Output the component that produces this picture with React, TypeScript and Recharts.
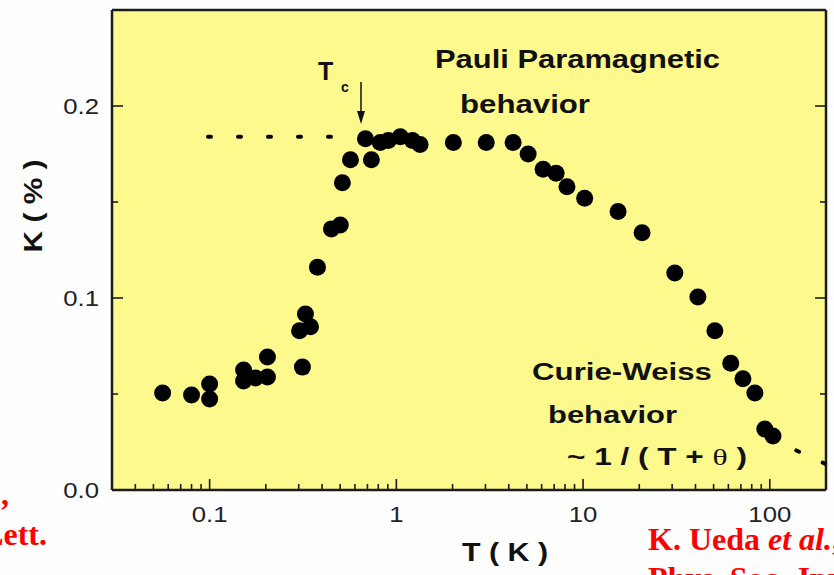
import React from 'react';
import { ScatterChart, Scatter, XAxis, YAxis, CartesianGrid } from 'recharts';

// Knight shift K (%) versus temperature T (K), log temperature axis
const temperature = [
  0.056, 0.08, 0.1, 0.1, 0.152, 0.152, 0.176, 0.204, 0.204, 0.303, 0.314, 0.326, 0.347,
  0.378, 0.449, 0.501, 0.514, 0.568, 0.683, 0.735, 0.82, 0.905, 1.05, 1.22, 1.34, 2.02,
  3.03, 4.22, 5.08, 6.11, 7.17, 8.2, 10.2, 15.4, 20.7, 31, 41.2, 50.8, 61.8, 71.8, 83.2,
  94, 104,
];
const knightShift = [
  0.0505, 0.0495, 0.0552, 0.0474, 0.0625, 0.0568, 0.0583, 0.0589, 0.0693, 0.083, 0.064,
  0.0917, 0.085, 0.116, 0.136, 0.138, 0.16, 0.172, 0.183, 0.172, 0.181, 0.182, 0.184,
  0.182, 0.18, 0.181, 0.181, 0.181, 0.175, 0.167, 0.165, 0.158, 0.152, 0.145, 0.134,
  0.113, 0.1005, 0.083, 0.066, 0.058, 0.0505, 0.0318, 0.0281,
];

// dotted guides: Pauli plateau and Curie-Weiss tail
const pauliGuideT = [0.098, 0.5];
const pauliGuideK = [0.184, 0.184];
const curieGuideT = [138.8, 200];
const curieGuideK = [0.0206, 0.0135];

const T_DOMAIN = [0.03, 200];
const K_DOMAIN = [0, 0.25];
const T_MAJOR = [0.1, 1, 10, 100];
const T_MINOR = [
  0.04, 0.05, 0.06, 0.07, 0.08, 0.09,
  0.2, 0.3, 0.4, 0.5, 0.6, 0.7, 0.8, 0.9,
  2, 3, 4, 5, 6, 7, 8, 9,
  20, 30, 40, 50, 60, 70, 80, 90,
];
const K_MAJOR = [0, 0.1, 0.2];
const K_MINOR = [0.05, 0.15];
const K_LABELS = ['0.0', '0.1', '0.2'];

const zip = (xs: number[], ys: number[]) => xs.map((t, i) => ({ t, k: ys[i] }));
const points = zip(temperature, knightShift);
const pauliGuide = zip(pauliGuideT, pauliGuideK);
const curieGuide = zip(curieGuideT, curieGuideK);

const PLOT_BG = '#fdf98c';
const INK = '#1c1c1c';
const SANS = "Arial, 'Liberation Sans', Helvetica, sans-serif";
const SERIF = "'Times New Roman', 'Liberation Serif', serif";
const AXIS_LINE = { stroke: INK, strokeWidth: 2.5 };

const isMajorT = (v: number) => T_MAJOR.includes(v);
const isMajorK = (v: number) => K_MAJOR.includes(v);

function BottomTick({ x, y, payload }: any) {
  const major = isMajorT(payload.value);
  return (
    <g>
      <line x1={x} x2={x} y1={y} y2={y - (major ? 11 : 6)} stroke={INK} strokeWidth={1.6} />
      {major && (
        <text
          transform={`translate(${x},${y + 32}) scale(1.12,1)`}
          textAnchor="middle"
          fontFamily={SANS}
          fontSize={23}
          fill="#222"
        >
          {String(payload.value)}
        </text>
      )}
    </g>
  );
}

function TopTick({ x, y, payload }: any) {
  const major = isMajorT(payload.value);
  return <line x1={x} x2={x} y1={y} y2={y + (major ? 11 : 6)} stroke={INK} strokeWidth={1.6} />;
}

function LeftTick({ x, y, payload }: any) {
  const major = isMajorK(payload.value);
  const idx = K_MAJOR.indexOf(payload.value);
  return (
    <g>
      <line x1={x} x2={x + (major ? 11 : 6)} y1={y} y2={y} stroke={INK} strokeWidth={1.6} />
      {major && (
        <text
          transform={`translate(${x - 13},${y + 8}) scale(1.12,1)`}
          textAnchor="end"
          fontFamily={SANS}
          fontSize={23}
          fill="#222"
        >
          {K_LABELS[idx]}
        </text>
      )}
    </g>
  );
}

function RightTick({ x, y, payload }: any) {
  const major = isMajorK(payload.value);
  return <line x1={x} x2={x - (major ? 11 : 6)} y1={y} y2={y} stroke={INK} strokeWidth={1.6} />;
}

const Dot = (props: any) => <circle cx={props.cx} cy={props.cy} r={8.5} fill="#000" />;
const NoDot = () => <g />;

function Annotations() {
  const bold = { fontFamily: SANS, fontWeight: 700, fill: '#111' } as const;
  const red = { fontFamily: SERIF, fontWeight: 700, fill: '#ff0000', fontSize: 32 } as const;
  return (
    <svg
      width={834}
      height={575}
      style={{ position: 'absolute', left: 0, top: 0, pointerEvents: 'none' }}
    >
      {/* T_c marker */}
      <text x={318} y={80} fontSize={25} {...bold}>T</text>
      <text x={341} y={92} fontSize={14} {...bold}>c</text>
      <line x1={361} x2={361} y1={82} y2={114} stroke="#111" strokeWidth={1.5} />
      <polygon points="357,111 365,111 361,124" fill="#111" />

      <text x={435} y={68} fontSize={25} textLength={285} lengthAdjust="spacingAndGlyphs" {...bold}>
        Pauli Paramagnetic
      </text>
      <text x={460} y={113} fontSize={25} textLength={130} lengthAdjust="spacingAndGlyphs" {...bold}>
        behavior
      </text>

      <text x={532} y={380} fontSize={24} textLength={180} lengthAdjust="spacingAndGlyphs" {...bold}>
        Curie-Weiss
      </text>
      <text x={548} y={423} fontSize={24} textLength={129} lengthAdjust="spacingAndGlyphs" {...bold}>
        behavior
      </text>
      <text x={567} y={465} fontSize={24} textLength={180} lengthAdjust="spacingAndGlyphs" {...bold}>
        ~ 1 / ( T + <tspan fontFamily={SERIF} fontWeight={400}>θ</tspan> )
      </text>

      {/* axis titles */}
      <text
        transform="translate(42,206) rotate(-90)"
        textAnchor="middle"
        fontSize={26}
        textLength={93}
        lengthAdjust="spacingAndGlyphs"
        {...bold}
      >
        K ( % )
      </text>
      <text x={505} y={561} textAnchor="middle" fontSize={26} textLength={86} lengthAdjust="spacingAndGlyphs" {...bold}>
        T ( K )
      </text>

      {/* citation fragments */}
      <text x={9} y={505} textAnchor="end" {...red}>,</text>
      <text x={47} y={545} textAnchor="end" {...red}>Lett.</text>
      <text x={648} y={550} {...red}>
        K. Ueda <tspan fontStyle="italic">et al.</tspan>, J.
      </text>
      <text x={648} y={589} {...red}>Phys. Soc. Jpn.</text>
    </svg>
  );
}

export default function App() {
  return (
    <div
      style={{
        position: 'absolute',
        left: 0,
        top: 0,
        width: 834,
        height: 575,
        overflow: 'hidden',
        background: '#fefefe',
      }}
    >
      <ScatterChart width={834} height={575} margin={{ top: 0, right: 0, bottom: 0, left: 0 }}>
        <CartesianGrid
          xAxisId="bottom"
          yAxisId="left"
          horizontal={false}
          vertical={false}
          fill={PLOT_BG}
          fillOpacity={1}
        />
        <XAxis
          xAxisId="bottom"
          dataKey="t"
          type="number"
          scale="log"
          domain={T_DOMAIN}
          allowDataOverflow
          ticks={[...T_MAJOR, ...T_MINOR]}
          interval={0}
          height={85}
          tickSize={0}
          tickMargin={0}
          tickLine={false}
          axisLine={AXIS_LINE}
          tick={<BottomTick />}
        />
        <XAxis
          xAxisId="top"
          orientation="top"
          type="number"
          scale="log"
          domain={T_DOMAIN}
          allowDataOverflow
          ticks={[...T_MAJOR, ...T_MINOR]}
          interval={0}
          height={10}
          tickSize={0}
          tickMargin={0}
          tickLine={false}
          axisLine={AXIS_LINE}
          tick={<TopTick />}
        />
        <YAxis
          yAxisId="left"
          dataKey="k"
          type="number"
          domain={K_DOMAIN}
          allowDataOverflow
          ticks={[...K_MAJOR, ...K_MINOR]}
          interval={0}
          width={112}
          tickSize={0}
          tickMargin={0}
          tickLine={false}
          axisLine={AXIS_LINE}
          tick={<LeftTick />}
        />
        <YAxis
          yAxisId="right"
          orientation="right"
          type="number"
          domain={K_DOMAIN}
          allowDataOverflow
          ticks={[...K_MAJOR, ...K_MINOR]}
          interval={0}
          width={8}
          tickSize={0}
          tickMargin={0}
          tickLine={false}
          axisLine={AXIS_LINE}
          tick={<RightTick />}
        />
        <Scatter
          xAxisId="bottom"
          yAxisId="left"
          data={pauliGuide}
          shape={NoDot}
          line={{ stroke: '#000', strokeWidth: 4, strokeDasharray: '3 27', strokeLinecap: 'round' }}
          isAnimationActive={false}
        />
        <Scatter
          xAxisId="bottom"
          yAxisId="left"
          data={curieGuide}
          shape={NoDot}
          line={{ stroke: '#000', strokeWidth: 4, strokeDasharray: '3 26', strokeLinecap: 'round' }}
          isAnimationActive={false}
        />
        <Scatter
          xAxisId="bottom"
          yAxisId="left"
          data={points}
          shape={Dot}
          isAnimationActive={false}
        />
      </ScatterChart>
      <Annotations />
    </div>
  );
}
